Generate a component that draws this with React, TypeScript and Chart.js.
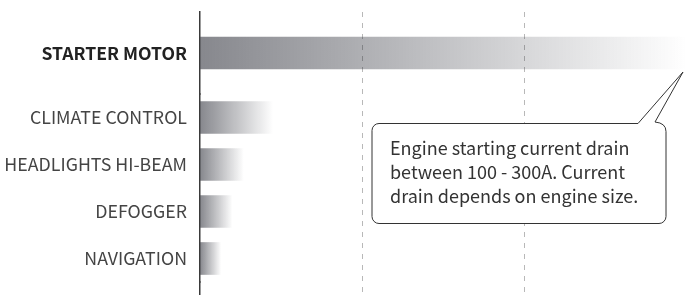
import React, { useEffect, useRef } from 'react';
import { Chart, registerables } from 'chart.js';

Chart.register(...registerables);

const categories = ['STARTER MOTOR', 'CLIMATE CONTROL', 'HEADLIGHTS HI-BEAM', 'DEFOGGER', 'NAVIGATION'];
const currentDraw = [300, 45, 27, 20, 13];
const xTicks = [0, 100, 200, 300];
const calloutLines = [
  'Engine starting current drain',
  'between 100 - 300A. Current',
  'drain depends on engine size.',
];

const FONT = '"Noto Sans CJK SC", "Noto Sans", sans-serif';

function barGradient(c: any) {
  const chart = c.chart;
  const xs = chart.scales?.x;
  const fallback = 'rgba(40,42,52,0.5)';
  if (!chart.chartArea || !xs || c.type !== 'data') return fallback;
  const x0 = xs.getPixelForValue(0);
  const x1 = xs.getPixelForValue(c.raw);
  if (!isFinite(x0) || !isFinite(x1) || x1 <= x0) return fallback;
  const g = chart.ctx.createLinearGradient(x0, 0, x1, 0);
  g.addColorStop(0, 'rgba(40,42,52,0.56)');
  g.addColorStop(1, 'rgba(40,42,52,0)');
  return g;
}

const calloutPlugin = {
  id: 'callout',
  afterDraw(chart: any) {
    const { ctx } = chart;
    const xs = chart.scales.x;
    const yTop = chart.scales.yTop;
    const tipX = xs.getPixelForValue(currentDraw[0]) - 4;
    const tipY = yTop.getPixelForValue(0) + 19;
    const L = 372, T = 123.5, R = 666, B = 223.5, r = 7;
    ctx.save();
    ctx.beginPath();
    ctx.moveTo(L + r, T);
    ctx.lineTo(638, T);
    ctx.lineTo(tipX, tipY);
    ctx.lineTo(655, T - 1.5);
    ctx.quadraticCurveTo(R, T - 0.5, R, T + 8);
    ctx.lineTo(R, B - r);
    ctx.arcTo(R, B, R - r, B, r);
    ctx.lineTo(L + r, B);
    ctx.arcTo(L, B, L, B - r, r);
    ctx.lineTo(L, T + r);
    ctx.arcTo(L, T, L + r, T, r);
    ctx.closePath();
    ctx.fillStyle = '#ffffff';
    ctx.fill();
    ctx.strokeStyle = '#333333';
    ctx.lineWidth = 1;
    ctx.stroke();
    ctx.fillStyle = '#333333';
    ctx.font = `18px ${FONT}`;
    ctx.textBaseline = 'alphabetic';
    ctx.textAlign = 'left';
    calloutLines.forEach((line, i) => ctx.fillText(line, 390, 155 + i * 24));
    ctx.restore();
  },
};

const zeroPad = (s: any) => {
  s.paddingTop = 0;
  s.paddingBottom = 0;
  s.paddingLeft = 0;
  s.paddingRight = 0;
};
const fixWidth = (s: any) => { s.width = 200; zeroPad(s); };

export default function App() {
  const ref = useRef<HTMLCanvasElement>(null);
  useEffect(() => {
    if (!ref.current) return;
    const chart = new Chart(ref.current, {
      type: 'bar',
      data: {
        datasets: [
          {
            data: currentDraw.slice(0, 1),
            yAxisID: 'yTop',
            backgroundColor: barGradient as any,
            barThickness: 32,
            borderWidth: 0,
            grouped: false,
          },
          {
            data: currentDraw.slice(1),
            yAxisID: 'yBottom',
            backgroundColor: barGradient as any,
            barThickness: 32,
            borderWidth: 0,
            grouped: false,
          },
        ],
      },
      options: {
        indexAxis: 'y',
        responsive: false,
        animation: false,
        layout: { padding: { top: 12, left: 0, right: 0, bottom: 0 } },
        plugins: { legend: { display: false }, tooltip: { enabled: false } },
        scales: {
          x: {
            type: 'linear',
            position: 'bottom',
            min: xTicks[0],
            max: xTicks[xTicks.length - 1],
            afterBuildTicks: (s: any) => { s.ticks = xTicks.map((v) => ({ value: v })); },
            afterFit: (s: any) => { s.height = 0; zeroPad(s); },
            ticks: { display: false },
            grid: {
              drawTicks: false,
              tickLength: 0,
              lineWidth: 1,
              color: (c: any) => (c.tick && (c.tick.value === xTicks[0] || c.tick.value === xTicks[xTicks.length - 1]) ? 'rgba(0,0,0,0)' : '#b8b8b8'),
            },
            border: { display: false, dash: [5, 6] },
          },
          yTop: {
            type: 'category',
            axis: 'y',
            position: 'left',
            stack: 'rows',
            stackWeight: 82,
            weight: 3,
            labels: categories.slice(0, 1),
            offset: true,
            afterFit: fixWidth,
            grid: { display: false, drawTicks: false },
            border: { display: true, color: '#3a3a3a', width: 1.5 },
            ticks: { autoSkip: false, padding: 13, color: '#222222', font: { family: FONT, size: 17.6, weight: 'bold' } },
          },
          yBottom: {
            type: 'category',
            axis: 'y',
            position: 'left',
            stack: 'rows',
            stackWeight: 188,
            weight: 2,
            labels: categories.slice(1),
            offset: true,
            afterFit: fixWidth,
            grid: { display: false, drawTicks: false },
            border: { display: true, color: '#3a3a3a', width: 1.5 },
            ticks: { autoSkip: false, padding: 13, color: '#444444', font: { family: FONT, size: 17.8, weight: 'normal' } },
          },
          yPad: {
            type: 'category',
            axis: 'y',
            position: 'left',
            stack: 'rows',
            stackWeight: 13,
            weight: 1,
            labels: [''],
            offset: true,
            afterFit: fixWidth,
            grid: { display: false, drawTicks: false },
            border: { display: true, color: '#3a3a3a', width: 1.5 },
            ticks: { display: false },
          },
        },
      } as any,
      plugins: [calloutPlugin],
    });
    return () => chart.destroy();
  }, []);
  return (
    <div style={{ position: 'fixed', left: 0, top: 0, width: 687, height: 295, background: '#fff' }}>
      <canvas ref={ref} width={687} height={295} style={{ display: 'block' }} />
    </div>
  );
}
